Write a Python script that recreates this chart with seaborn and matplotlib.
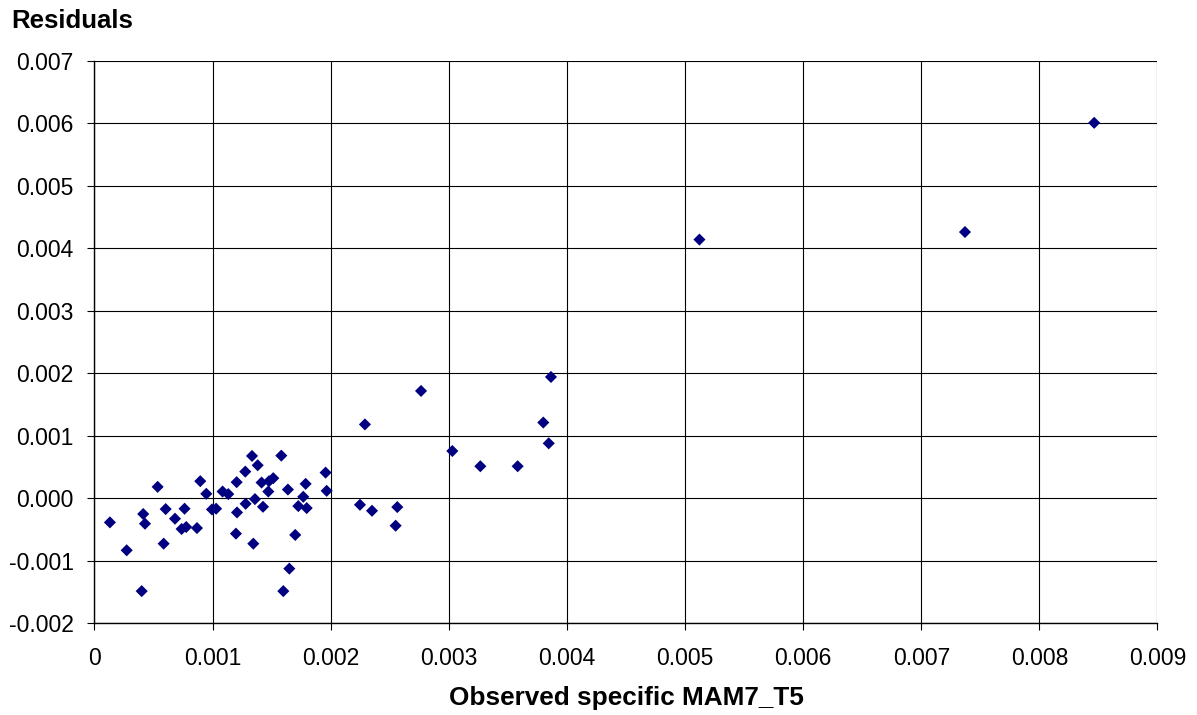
import matplotlib
matplotlib.use("Agg")
import matplotlib.pyplot as plt
import seaborn as sns
import pandas as pd
from matplotlib.ticker import FuncFormatter, MultipleLocator

# Observed specific MAM7_T5 values and the matching residuals
observed = [
    0.000131, 0.000273, 0.000400, 0.000413, 0.000428, 0.000535, 0.000586, 0.000603,
    0.000682, 0.000738, 0.000763, 0.000777, 0.000868, 0.000896, 0.000947, 0.000995,
    0.001030, 0.001085, 0.001133, 0.001198, 0.001204, 0.001207, 0.001277, 0.001280,
    0.001334, 0.001345, 0.001359, 0.001382, 0.001415, 0.001427, 0.001472, 0.001478,
    0.001514, 0.001582, 0.001599, 0.001638, 0.001650, 0.001700, 0.001726, 0.001768,
    0.001788, 0.001797, 0.001957, 0.001966,
    0.002248, 0.002290, 0.002350, 0.002550, 0.002564, 0.002765,
    0.003030, 0.003267, 0.003583, 0.003800, 0.003846, 0.003865,
    0.005122, 0.007370, 0.008464,
]
residuals = [
    -0.000389, -0.000836, -0.001490, -0.000255, -0.000410, 0.000180, -0.000730, -0.000176,
    -0.000330, -0.000495, -0.000170, -0.000463, -0.000480, 0.000271, 0.000069, -0.000182,
    -0.000170, 0.000105, 0.000064, -0.000569, 0.000255, -0.000230, 0.000424, -0.000091,
    0.000675, -0.000730, -0.000016, 0.000526, 0.000249, -0.000139, 0.000105, 0.000271,
    0.000319, 0.000680, -0.001490, 0.000137, -0.001130, -0.000590, -0.000128, 0.000021,
    0.000228, -0.000160, 0.000408, 0.000116,
    -0.000107, 0.001180, -0.000203, -0.000442, -0.000144, 0.001716,
    0.000754, 0.000510, 0.000510, 0.001210, 0.000877, 0.001940,
    0.004140, 0.004261, 0.006010,
]

df = pd.DataFrame({"observed": observed, "residual": residuals})

sns.set_style("white")
plt.rcParams["font.family"] = ["Liberation Sans", "DejaVu Sans"]
plt.rcParams["text.color"] = "#000000"

fig = plt.figure(figsize=(11.97, 7.15), dpi=100)
ax = fig.add_axes([0.0789, 0.1287, 0.8881, 0.786])

sns.scatterplot(data=df, x="observed", y="residual", ax=ax, marker="D",
                s=38, color="#000080", edgecolor="none", linewidth=0, zorder=3)

ax.set_xlim(0, 0.009)
ax.set_ylim(-0.002, 0.007)
ax.xaxis.set_major_locator(MultipleLocator(0.001))
ax.yaxis.set_major_locator(MultipleLocator(0.001))
ax.xaxis.set_major_formatter(FuncFormatter(lambda v, p: "0" if abs(v) < 1e-12 else f"{v:.3f}"))
ax.yaxis.set_major_formatter(FuncFormatter(lambda v, p: "0.000" if abs(v) < 1e-12 else f"{v:.3f}"))

ax.grid(True, color="#000000", linewidth=0.8)
ax.set_axisbelow(True)
for side in ["top", "right"]:
    ax.spines[side].set_visible(False)
for side in ["left", "bottom"]:
    ax.spines[side].set_color("#000000")
    ax.spines[side].set_linewidth(1.0)
    ax.spines[side].set_zorder(4)

ax.tick_params(axis="both", which="major", direction="out", length=5, width=0.8,
               color="#000000", labelsize=16.5, labelcolor="#000000",
               bottom=True, left=True)
ax.tick_params(axis="x", pad=12)
ax.tick_params(axis="y", pad=10)

ax.set_xlabel("")
ax.set_ylabel("")
fig.text(0.0095, 0.971, "Residuals", fontsize=18.5, fontweight="bold",
         color="#000000", ha="left", va="center")
fig.text(0.5234, 0.024, "Observed specific MAM7_T5", fontsize=18.8, fontweight="bold",
         color="#000000", ha="center", va="center")

fig.savefig("out.png", dpi=100, facecolor="white")
